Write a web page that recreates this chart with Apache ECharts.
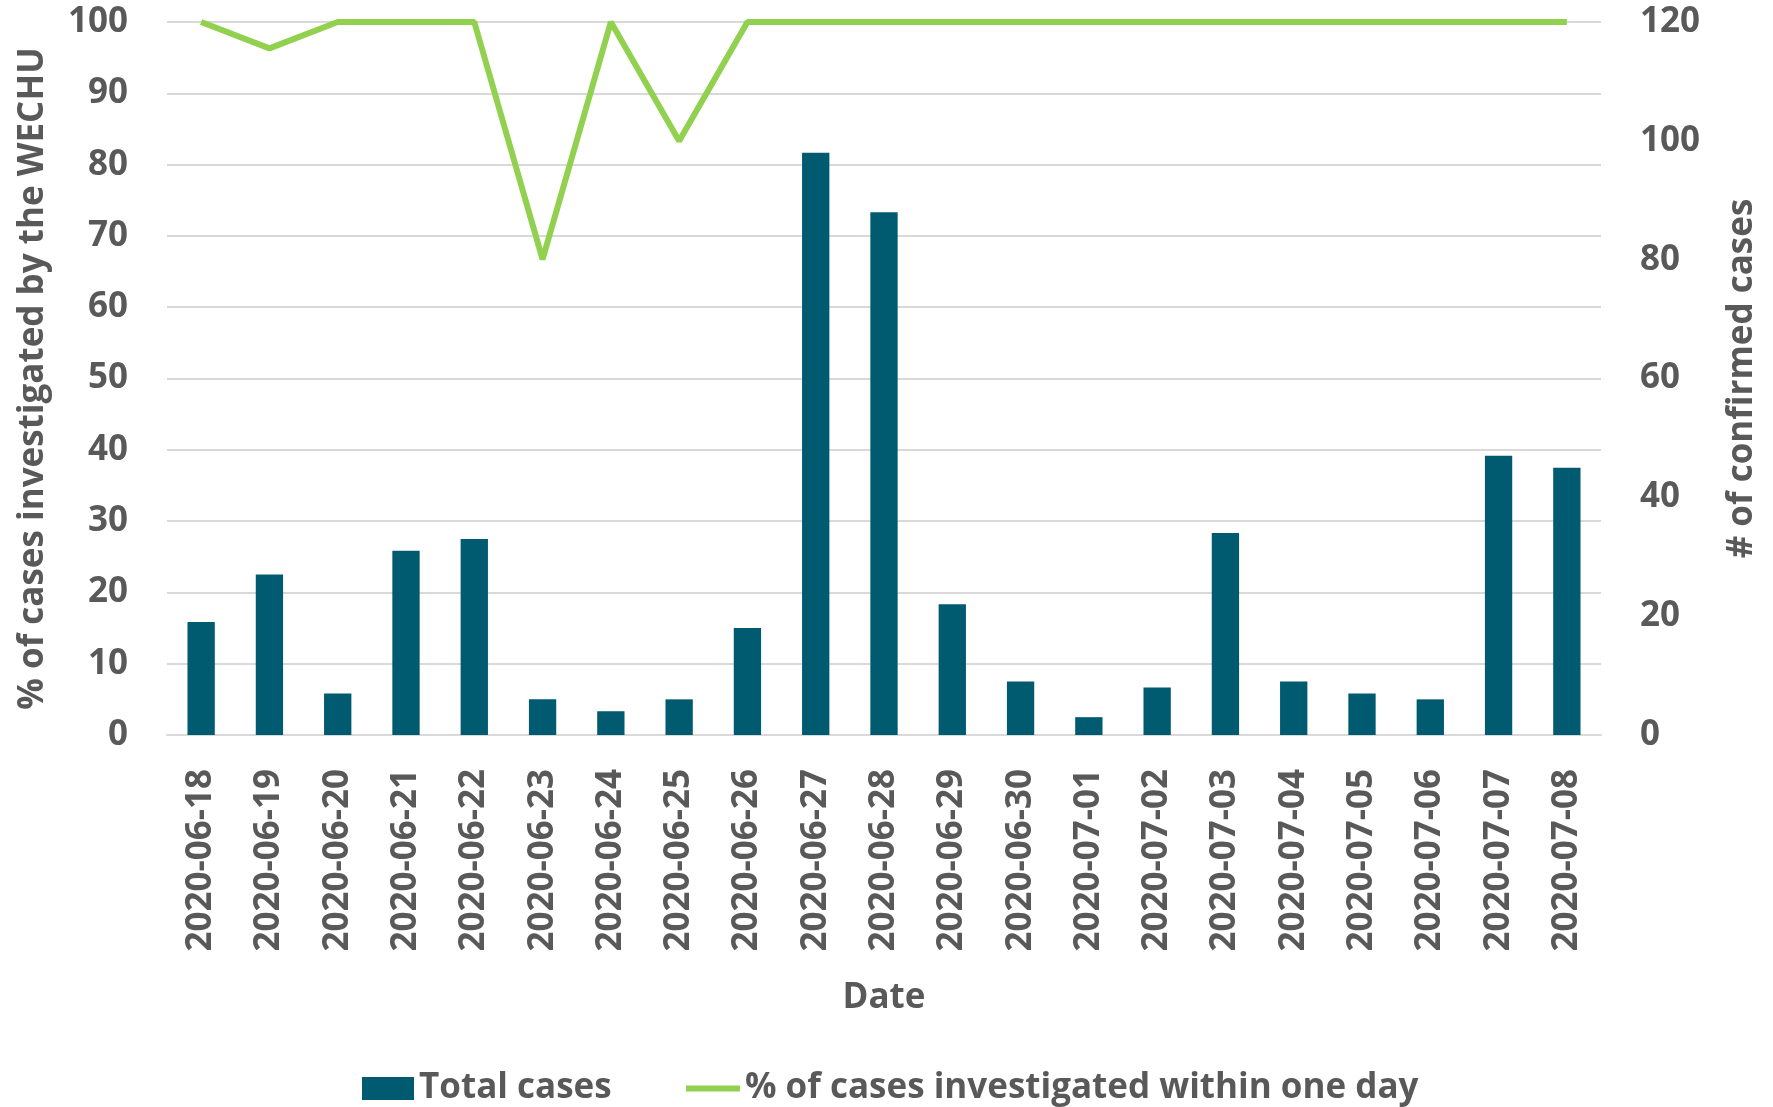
<!DOCTYPE html>
<html>
<head>
<meta charset="utf-8">
<script src="https://cdn.jsdelivr.net/npm/echarts@6/dist/echarts.min.js"></script>
<style>
  html, body { margin: 0; padding: 0; background: #fff; }
  #chart { width: 1773px; height: 1107px; }
</style>
</head>
<body>
<div id="chart"></div>
<script>
// 日期、病例数、一天内调查比例
const dates = ['2020-06-18', '2020-06-19', '2020-06-20', '2020-06-21', '2020-06-22', '2020-06-23', '2020-06-24',
  '2020-06-25', '2020-06-26', '2020-06-27', '2020-06-28', '2020-06-29', '2020-06-30', '2020-07-01',
  '2020-07-02', '2020-07-03', '2020-07-04', '2020-07-05', '2020-07-06', '2020-07-07', '2020-07-08'];
const totalCases = [19, 27, 7, 31, 33, 6, 4, 6, 18, 98, 88, 22, 9, 3, 8, 34, 9, 7, 6, 47, 45];
const pctWithinDay = [100, 96.3, 100, 100, 100, 66.7, 100, 83.3, 100, 100, 100, 100, 100, 100,
  100, 100, 100, 100, 100, 100, 100];

const TEXT = '#595959';
const FONT = 'Open Sans';

const chart = echarts.init(document.getElementById('chart'));

chart.setOption({
  animation: false,
  textStyle: { fontFamily: FONT, fontWeight: 'bold', color: TEXT },
  grid: { left: 167, right: 172, top: 22, bottom: 372 },
  legend: [
    {
      data: [{ name: 'Total cases', icon: 'rect' }],
      left: 357, top: 1066,
      itemWidth: 52, itemHeight: 23,
      textStyle: { fontSize: 35, fontWeight: 'bold', color: TEXT, fontFamily: FONT }
    },
    {
      data: [{ name: '% of cases investigated within one day', icon: 'rect' }],
      left: 681, top: 1066,
      itemWidth: 54, itemHeight: 6,
      textStyle: { fontSize: 35, fontWeight: 'bold', color: TEXT, fontFamily: FONT }
    }
  ],
  xAxis: {
    type: 'category',
    data: dates,
    name: 'Date',
    nameLocation: 'middle',
    nameGap: 246,
    nameTextStyle: { fontSize: 35, fontWeight: 'bold', color: TEXT },
    axisLine: { show: true, lineStyle: { color: '#D9D9D9', width: 2 } },
    axisTick: { show: false },
    axisLabel: { rotate: 90, margin: 34, fontSize: 35, fontWeight: 'bold', color: TEXT, interval: 0 }
  },
  yAxis: [
    {
      type: 'value',
      min: 0, max: 100, interval: 10,
      name: '% of cases investigated by the WECHU',
      nameLocation: 'middle',
      nameGap: 116,
      nameRotate: 90,
      nameTextStyle: { fontSize: 35, fontWeight: 'bold', color: TEXT },
      axisLine: { show: false },
      axisTick: { show: false },
      axisLabel: { margin: 39, fontSize: 35, fontWeight: 'bold', color: TEXT },
      splitLine: { lineStyle: { color: '#D9D9D9', width: 2 } }
    },
    {
      type: 'value',
      min: 0, max: 120, interval: 20,
      name: '# of confirmed cases',
      nameLocation: 'middle',
      nameGap: 124,
      nameRotate: 90,
      nameTextStyle: { fontSize: 35, fontWeight: 'bold', color: TEXT },
      axisLine: { show: false },
      axisTick: { show: false },
      axisLabel: { margin: 39, fontSize: 35, fontWeight: 'bold', color: TEXT },
      splitLine: { show: false }
    }
  ],
  series: [
    {
      name: 'Total cases',
      type: 'bar',
      yAxisIndex: 1,
      data: totalCases,
      barWidth: '40%',
      itemStyle: { color: '#005A70' }
    },
    {
      name: '% of cases investigated within one day',
      type: 'line',
      yAxisIndex: 0,
      data: pctWithinDay,
      symbol: 'none',
      lineStyle: { color: '#92D050', width: 6 },
      itemStyle: { color: '#92D050' }
    }
  ]
});
</script>
</body>
</html>
